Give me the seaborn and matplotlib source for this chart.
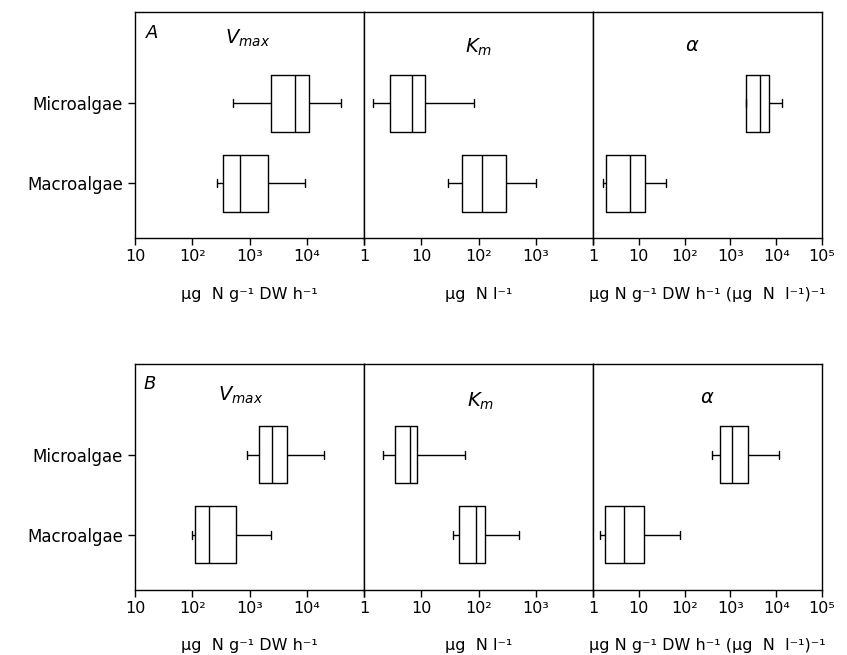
import matplotlib
matplotlib.use("Agg")
import matplotlib.pyplot as plt
from matplotlib.ticker import NullLocator
import numpy as np
import pandas as pd
import seaborn as sns

# ---------------- data (five-number summaries: low whisker, Q1, median, Q3, high whisker)
groups = ["Microalgae", "Macroalgae"]

A_vmax_micro = [525, 2400, 6300, 11000, 39000]
A_vmax_macro = [275, 345, 690, 2100, 9500]
A_km_micro = [1.43, 2.8, 6.9, 11.5, 82]
A_km_macro = [29, 51, 114, 298, 1030]
A_alpha_micro = [2150, 2150, 4350, 6900, 13500]
A_alpha_macro = [1.65, 1.95, 6.5, 13.9, 39]

B_vmax_micro = [910, 1490, 2500, 4450, 20000]
B_vmax_macro = [100, 110, 195, 580, 2330]
B_km_micro = [2.18, 3.5, 6.4, 8.3, 58]
B_km_macro = [36, 45, 89, 131, 510]
B_alpha_micro = [390, 590, 1070, 2470, 11300]
B_alpha_macro = [1.42, 1.8, 4.8, 13, 80]

panel_letters = ["A", "B"]
param_titles = [r"$V_{max}$", r"$K_m$", r"$\alpha$"]
x_units = ["μg  N g⁻¹ DW h⁻¹", "μg  N l⁻¹", "μg N g⁻¹ DW h⁻¹ (μg  N  l⁻¹)⁻¹"]
x_limits = [(10, 1e5), (1, 1e4), (1, 1e5)]
x_ticks = [[10, 1e2, 1e3, 1e4, 1e5], [1, 10, 1e2, 1e3, 1e4], [1, 10, 1e2, 1e3, 1e4, 1e5]]
x_ticklabels = [["10", "10²", "10³", "10⁴", ""], ["1", "10", "10²", "10³", ""],
                ["1", "10", "10²", "10³", "10⁴", "10⁵"]]

rows = [
    [(A_vmax_micro, A_vmax_macro), (A_km_micro, A_km_macro), (A_alpha_micro, A_alpha_macro)],
    [(B_vmax_micro, B_vmax_macro), (B_km_micro, B_km_macro), (B_alpha_micro, B_alpha_macro)],
]

title_pos = [
    [(0.49, 0.885), (0.50, 0.845), (0.435, 0.85)],
    [(0.46, 0.86), (0.51, 0.835), (0.50, 0.85)],
]
letter_pos = [(0.075, 0.905), (0.066, 0.91)]

# ---------------- style
sns.set_style("ticks")
plt.rcParams["font.family"] = ["DejaVu Sans"]
plt.rcParams["mathtext.fontset"] = "dejavusans"
plt.rcParams["axes.edgecolor"] = "black"
plt.rcParams["axes.linewidth"] = 1.0
plt.rcParams["text.color"] = "black"
plt.rcParams["axes.labelcolor"] = "black"
plt.rcParams["xtick.color"] = "black"
plt.rcParams["ytick.color"] = "black"

fig, axes = plt.subplots(2, 3, figsize=(8.47, 6.55), dpi=100)
fig.subplots_adjust(left=0.1594, right=0.9705, top=0.9817, bottom=0.0992,
                    wspace=0, hspace=0.5535)

for r in range(2):
    for c in range(3):
        ax = axes[r, c]
        micro, macro = rows[r][c]
        df = pd.DataFrame({
            "group": [groups[0]] * len(micro) + [groups[1]] * len(macro),
            "value": list(micro) + list(macro),
        })
        sns.boxplot(data=df, x="value", y="group", order=groups, orient="h", ax=ax,
                    whis=(0, 100), width=0.71, fill=False, color="black",
                    linewidth=1.0, log_scale=True, capwidths=0.1)
        ax.set_xlim(*x_limits[c])
        ax.set_ylim(1.69, -1.14)
        ax.set_xticks(x_ticks[c])
        ax.set_xticklabels(x_ticklabels[c], fontsize=11.5, color="black")
        ax.xaxis.set_minor_locator(NullLocator())
        ax.tick_params(axis="x", direction="out", length=5, width=1.0, pad=3,
                       colors="black")
        ax.set_xlabel(x_units[c], fontsize=11.5, labelpad=16, color="black")
        ax.set_ylabel("")
        if c == 0:
            ax.tick_params(axis="y", direction="out", length=5, width=1.0, labelsize=12,
                           colors="black")
            ax.text(*letter_pos[r], panel_letters[r], transform=ax.transAxes,
                    fontsize=13, fontstyle="italic", ha="center", va="center",
                    color="black")
        else:
            ax.set_yticks([])
        for s in ax.spines.values():
            s.set_visible(True)
            s.set_color("black")
            s.set_linewidth(1.0)
        ax.text(*title_pos[r][c], param_titles[c], transform=ax.transAxes,
                fontsize=14, ha="center", va="center", color="black")

fig.savefig("out.png", dpi=100)
